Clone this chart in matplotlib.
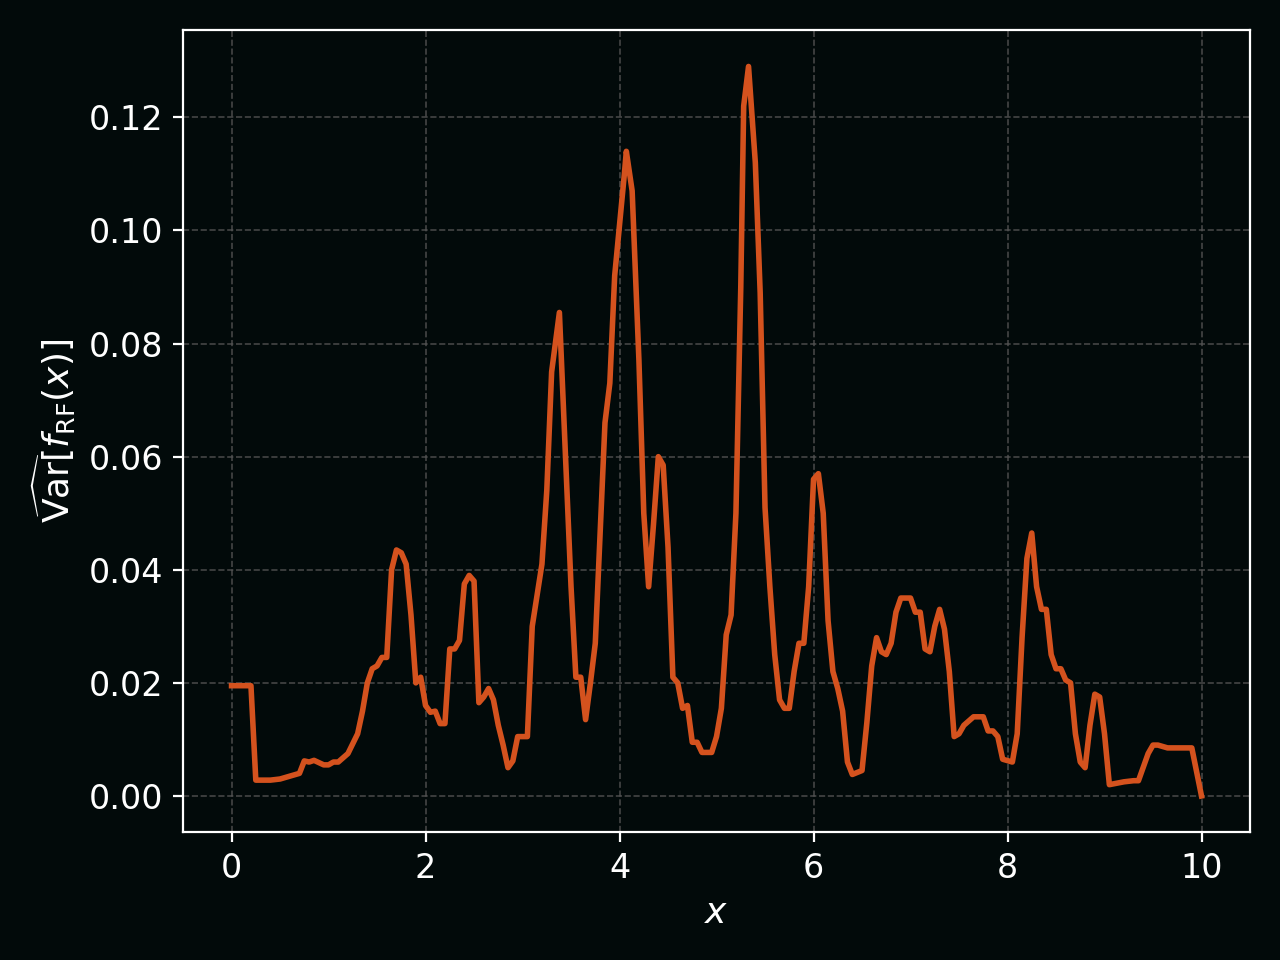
import matplotlib
matplotlib.use("Agg")
import matplotlib.pyplot as plt

x = [0, 0.2, 0.25, 0.4, 0.5, 0.6, 0.7, 0.75, 0.8, 0.85, 0.95, 1.0, 1.05, 1.1, 1.2, 1.3, 1.35, 1.4, 1.45, 1.5,
     1.55, 1.6, 1.65, 1.7, 1.75, 1.8, 1.85, 1.9, 1.95, 2.0, 2.05, 2.1, 2.15, 2.2, 2.25, 2.3, 2.35, 2.4, 2.45, 2.5,
     2.55, 2.6, 2.65, 2.7, 2.75, 2.8, 2.85, 2.9, 2.95, 3.05, 3.1, 3.2, 3.25, 3.3, 3.38, 3.45, 3.5, 3.55, 3.6, 3.65,
     3.7, 3.75, 3.85, 3.9, 3.95, 4.0, 4.05, 4.07, 4.13, 4.2, 4.25, 4.3, 4.35, 4.4, 4.45, 4.5, 4.55, 4.6, 4.65, 4.7,
     4.75, 4.8, 4.85, 4.95, 5.0, 5.05, 5.1, 5.15, 5.2, 5.25, 5.28, 5.33, 5.4, 5.45, 5.5, 5.55, 5.6, 5.65, 5.7, 5.75,
     5.8, 5.85, 5.9, 5.95, 6.0, 6.05, 6.1, 6.15, 6.2, 6.25, 6.3, 6.35, 6.4, 6.5, 6.55, 6.6, 6.65, 6.7, 6.75, 6.8,
     6.85, 6.9, 7.0, 7.05, 7.1, 7.15, 7.2, 7.25, 7.3, 7.35, 7.4, 7.45, 7.5, 7.55, 7.65, 7.75, 7.8, 7.85, 7.9, 7.95,
     8.05, 8.1, 8.15, 8.2, 8.25, 8.3, 8.35, 8.4, 8.45, 8.5, 8.55, 8.6, 8.65, 8.7, 8.75, 8.8, 8.85, 8.9, 8.95, 9.0,
     9.05, 9.2, 9.3, 9.35, 9.45, 9.5, 9.55, 9.65, 9.9, 10.0]
var = [0.0195, 0.0195, 0.0028, 0.0028, 0.003, 0.0035, 0.004, 0.0062, 0.006, 0.0063, 0.0055, 0.0055, 0.006, 0.006,
       0.0075, 0.011, 0.015, 0.02, 0.0225, 0.023, 0.0245, 0.0245, 0.040, 0.0435, 0.043, 0.041, 0.032, 0.020, 0.021,
       0.016, 0.0148, 0.015, 0.0128, 0.0128, 0.026, 0.026, 0.0275, 0.0375, 0.039, 0.038, 0.0165, 0.0175, 0.019,
       0.017, 0.0125, 0.009, 0.005, 0.0062, 0.0105, 0.0105, 0.030, 0.041, 0.054, 0.075, 0.0855, 0.057, 0.037, 0.021,
       0.021, 0.0135, 0.020, 0.027, 0.066, 0.073, 0.092, 0.101, 0.110, 0.114, 0.107, 0.077, 0.050, 0.037, 0.048,
       0.060, 0.0585, 0.044, 0.021, 0.020, 0.0155, 0.016, 0.0095, 0.0095, 0.0077, 0.0077, 0.0105, 0.0155, 0.0285,
       0.032, 0.050, 0.090, 0.122, 0.129, 0.112, 0.089, 0.051, 0.037, 0.025, 0.017, 0.0155, 0.0155, 0.022, 0.027,
       0.027, 0.037, 0.056, 0.057, 0.050, 0.031, 0.022, 0.019, 0.015, 0.006, 0.0038, 0.0045, 0.013, 0.023, 0.028,
       0.0255, 0.025, 0.027, 0.0325, 0.035, 0.035, 0.0325, 0.0325, 0.026, 0.0255, 0.030, 0.033, 0.0295, 0.022,
       0.0105, 0.011, 0.0125, 0.014, 0.014, 0.0115, 0.0115, 0.0105, 0.0065, 0.006, 0.011, 0.028, 0.042, 0.0465,
       0.037, 0.033, 0.033, 0.025, 0.0225, 0.0225, 0.0205, 0.020, 0.011, 0.006, 0.005, 0.0125, 0.018, 0.0175, 0.011,
       0.002, 0.0025, 0.0027, 0.0027, 0.0075, 0.009, 0.009, 0.0085, 0.0085, 0.0]

bg = "#020a0a"
fig, ax = plt.subplots(figsize=(6.4, 4.8), dpi=200)
fig.patch.set_facecolor(bg)
ax.set_facecolor(bg)
ax.plot(x, var, color="#d4521e", lw=2)
ax.grid(True, color="#555555", ls="--", lw=0.6, alpha=0.8)
for s in ax.spines.values():
    s.set_color("white")
ax.tick_params(colors="white", labelsize=12)
ax.set_xlabel("$x$", color="white", fontsize=13)
ax.set_ylabel(r"$\widehat{\mathrm{Var}}[f_{\mathrm{RF}}(x)]$", color="white", fontsize=13)
ax.set_yticks([0, 0.02, 0.04, 0.06, 0.08, 0.10, 0.12])
ax.set_yticklabels(["0.00", "0.02", "0.04", "0.06", "0.08", "0.10", "0.12"])
fig.tight_layout()
fig.savefig("out.png", facecolor=bg)
